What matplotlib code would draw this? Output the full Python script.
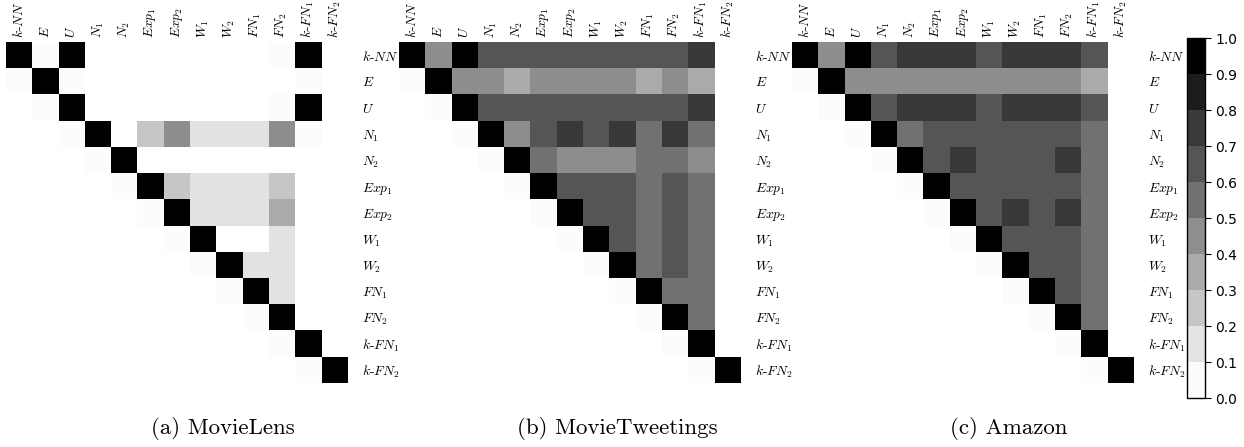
import numpy as np
import matplotlib
matplotlib.use("Agg")
import matplotlib.pyplot as plt
from matplotlib.colors import ListedColormap, BoundaryNorm

plt.rcParams['mathtext.fontset'] = 'cm'
plt.rcParams['axes.formatter.use_mathtext'] = True

labels = ['$k$-$NN$', '$E$', '$U$', '$N_1$', '$N_2$', '$Exp_1$', '$Exp_2$',
          '$W_1$', '$W_2$', '$FN_1$', '$FN_2$', '$k$-$FN_1$', '$k$-$FN_2$']
captions = ['(a) MovieLens', '(b) MovieTweetings', '(c) Amazon']

n = None
# similarity between methods (None = no cell drawn)
movielens = [
    [1, 0, 1, n, n, n, n, n, n, n, 0, 1, n],
    [0, 1, 0, n, n, n, n, n, n, n, n, 0, n],
    [n, 0, 1, n, n, n, n, n, n, n, 0, 1, n],
    [n, n, 0, 1, n, .25, .45, .15, .15, .15, .45, 0, n],
    [n, n, n, 0, 1, n, n, n, n, n, n, n, n],
    [n, n, n, n, 0, 1, .25, .15, .15, .15, .25, n, n],
    [n, n, n, n, n, 0, 1, .15, .15, .15, .35, n, n],
    [n, n, n, n, n, n, 0, 1, n, n, .15, n, n],
    [n, n, n, n, n, n, n, 0, 1, .15, .15, n, n],
    [n, n, n, n, n, n, n, n, 0, 1, .15, n, n],
    [n, n, n, n, n, n, n, n, n, 0, 1, n, n],
    [n, n, n, n, n, n, n, n, n, n, 0, 1, n],
    [n, n, n, n, n, n, n, n, n, n, n, 0, 1],
]
movietweetings = [
    [1, .45, 1, .65, .65, .65, .65, .65, .65, .65, .65, .75, n],
    [0, 1, .45, .45, .35, .45, .45, .45, .45, .35, .45, .35, n],
    [n, 0, 1, .65, .65, .65, .65, .65, .65, .65, .65, .75, n],
    [n, n, 0, 1, .45, .65, .75, .65, .75, .55, .75, .55, n],
    [n, n, n, 0, 1, .55, .45, .45, .45, .55, .55, .45, n],
    [n, n, n, n, 0, 1, .65, .65, .65, .55, .65, .55, n],
    [n, n, n, n, n, 0, 1, .65, .65, .55, .65, .55, n],
    [n, n, n, n, n, n, 0, 1, .65, .55, .65, .55, n],
    [n, n, n, n, n, n, n, 0, 1, .55, .65, .55, n],
    [n, n, n, n, n, n, n, n, 0, 1, .55, .55, n],
    [n, n, n, n, n, n, n, n, n, 0, 1, .55, n],
    [n, n, n, n, n, n, n, n, n, n, 0, 1, n],
    [n, n, n, n, n, n, n, n, n, n, n, 0, 1],
]
amazon = [
    [1, .45, 1, .65, .75, .75, .75, .65, .75, .75, .75, .65, n],
    [0, 1, .45, .45, .45, .45, .45, .45, .45, .45, .45, .35, n],
    [n, 0, 1, .65, .75, .75, .75, .65, .75, .75, .75, .65, n],
    [n, n, 0, 1, .55, .65, .65, .65, .65, .65, .65, .55, n],
    [n, n, n, 0, 1, .65, .75, .65, .65, .65, .75, .55, n],
    [n, n, n, n, 0, 1, .65, .65, .65, .65, .65, .55, n],
    [n, n, n, n, n, 0, 1, .65, .75, .65, .75, .55, n],
    [n, n, n, n, n, n, 0, 1, .65, .65, .65, .55, n],
    [n, n, n, n, n, n, n, 0, 1, .65, .65, .55, n],
    [n, n, n, n, n, n, n, n, 0, 1, .65, .55, n],
    [n, n, n, n, n, n, n, n, n, 0, 1, .55, n],
    [n, n, n, n, n, n, n, n, n, n, 0, 1, n],
    [n, n, n, n, n, n, n, n, n, n, n, 0, 1],
]

W, H = 1244, 447
fig = plt.figure(figsize=(W / 100, H / 100), dpi=100)

# 10 discrete grey levels, white -> black
greys = [str(1 - i / 9) for i in range(10)]
greys[0] = '#fcfcfc'
cmap = ListedColormap(greys)
cmap.set_bad('white')
norm = BoundaryNorm(np.linspace(0, 1, 11), 10)


def px(x0, x1, y0, y1):
    return [x0 / W, 1 - y1 / H, (x1 - x0) / W, (y1 - y0) / H]


lefts = [6, 399, 792]
cap_x = [223, 617, 1009]
datasets = [movielens, movietweetings, amazon]

for left, data, cap, cx in zip(lefts, datasets, captions, cap_x):
    ax = fig.add_axes(px(left, left + 341.5, 42, 383))
    m = np.array([[np.nan if v is None else v for v in row] for row in data], dtype=float)
    im = ax.imshow(np.ma.masked_invalid(m), cmap=cmap, norm=norm,
                   interpolation='nearest', aspect='auto')
    ax.set_xticks(range(len(labels)))
    ax.set_yticks(range(len(labels)))
    ax.set_xticklabels(labels, rotation=90, fontfamily='cmr10', fontsize=9.8)
    ax.set_yticklabels(labels, fontfamily='cmr10', fontsize=9.8)
    ax.xaxis.tick_top()
    ax.yaxis.tick_right()
    ax.tick_params(axis='x', length=0, pad=3)
    ax.tick_params(axis='y', length=0, pad=10.5)
    for s in ax.spines.values():
        s.set_visible(False)
    fig.text(cx / W, 1 - 429 / H, cap, ha='center', va='center',
             fontfamily='cmr10', fontsize=16.5)

cax = fig.add_axes(px(1187, 1205, 38, 398))
cb = fig.colorbar(im, cax=cax, ticks=np.linspace(0, 1, 11))
cb.ax.set_yticklabels(['%.1f' % t for t in np.linspace(0, 1, 11)])
cb.ax.tick_params(labelsize=10, length=4, width=0.8, direction='out')
cb.outline.set_linewidth(1.0)

fig.savefig('out.png', dpi=100)
